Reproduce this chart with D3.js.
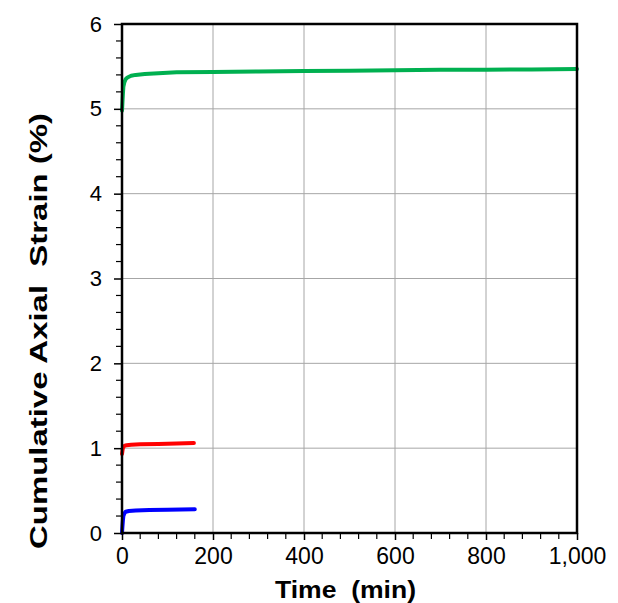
<!DOCTYPE html>
<html><head><meta charset="utf-8">
<script src="https://cdn.jsdelivr.net/npm/d3@7"></script>
<style>body{margin:0;background:#fff}svg{display:block}text{font-family:"Liberation Sans",Arial,sans-serif}</style>
</head><body><svg id="c" width="618" height="603"></svg>
<script>
const greenTime = [0, 1, 2, 3, 5, 8, 12, 20, 30, 50, 80, 120, 200, 300, 400, 500, 600, 700, 800, 900, 1000];
const greenStrain = [4.98, 5.08, 5.18, 5.26, 5.31, 5.35, 5.37, 5.39, 5.40, 5.41, 5.42, 5.43, 5.435, 5.44, 5.445, 5.45, 5.455, 5.46, 5.46, 5.465, 5.47];
const redTime = [0, 1, 2, 4, 6, 10, 20, 40, 80, 120, 158];
const redStrain = [0.93, 0.97, 1.0, 1.02, 1.03, 1.035, 1.04, 1.045, 1.05, 1.055, 1.06];
const blueTime = [0, 1, 2, 3, 5, 8, 15, 30, 60, 100, 160];
const blueStrain = [0.0, 0.08, 0.15, 0.2, 0.23, 0.25, 0.26, 0.265, 0.27, 0.275, 0.28];
const xTicks = [0, 200, 400, 600, 800, 1000];
const yTicks = [0, 1, 2, 3, 4, 5, 6];

const svg = d3.select("#c");
const L = 122, R = 577, T = 24, B = 533;
const x = d3.scaleLinear().domain([0, 1000]).range([L, R]);
const y = d3.scaleLinear().domain([0, 6]).range([B, T]);

// grid
svg.append("g").selectAll("line").data(xTicks.slice(1, -1)).join("line")
  .attr("x1", d => x(d)).attr("x2", d => x(d)).attr("y1", T).attr("y2", B)
  .attr("stroke", "#a6a6a6").attr("stroke-width", 1);
svg.append("g").selectAll("line").data(yTicks.slice(1, -1)).join("line")
  .attr("x1", L).attr("x2", R).attr("y1", d => y(d)).attr("y2", d => y(d))
  .attr("stroke", "#a6a6a6").attr("stroke-width", 1);

// series
const line = d3.line().x(d => x(d[0])).y(d => y(d[1]));
const series = [
  {t: greenTime, v: greenStrain, c: "#00b050"},
  {t: redTime, v: redStrain, c: "#ff0000"},
  {t: blueTime, v: blueStrain, c: "#0000ff"}
];
series.forEach(s => {
  svg.append("path").datum(s.t.map((t, i) => [t, s.v[i]]))
    .attr("d", line).attr("fill", "none").attr("stroke", s.c)
    .attr("stroke-width", 4).attr("stroke-linejoin", "round").attr("stroke-linecap", "round");
});

// frame
svg.append("rect").attr("x", L).attr("y", T).attr("width", R - L).attr("height", B - T)
  .attr("fill", "none").attr("stroke", "#000").attr("stroke-width", 2.5);

// axes
const xMinor = d3.range(0, 1001, 40).filter(d => d % 200 !== 0);
const yMinor = d3.range(0, 31).map(d => d / 5).filter((d, i) => i % 5 !== 0);
const xAxis = d3.axisBottom(x).tickValues(xTicks).tickSize(7).tickPadding(8)
  .tickFormat(d3.format(","));
const gx = svg.append("g").attr("transform", `translate(0,${B})`).call(xAxis);
gx.select(".domain").remove();
gx.selectAll(".tick line").attr("stroke", "#000").attr("stroke-width", 1.5);
gx.selectAll("text").attr("font-size", 23).attr("fill", "#000");
svg.append("g").selectAll("line").data(xMinor).join("line")
  .attr("x1", d => x(d)).attr("x2", d => x(d)).attr("y1", B).attr("y2", B + 6)
  .attr("stroke", "#000").attr("stroke-width", 1.2);

const yAxis = d3.axisLeft(y).tickValues(yTicks).tickSize(8).tickPadding(12)
  .tickFormat(d3.format("d"));
const gy = svg.append("g").attr("transform", `translate(${L},0)`).call(yAxis);
gy.select(".domain").remove();
gy.selectAll(".tick line").attr("stroke", "#000").attr("stroke-width", 1.5);
gy.selectAll("text").attr("font-size", 22).attr("fill", "#000");
svg.append("g").selectAll("line").data(yMinor).join("line")
  .attr("x1", L - 6).attr("x2", L).attr("y1", d => y(d)).attr("y2", d => y(d))
  .attr("stroke", "#000").attr("stroke-width", 1.2);

// labels
svg.append("text").attr("x", 275).attr("y", 598)
  .attr("font-size", 24).attr("font-weight", "bold")
  .attr("textLength", 141).attr("lengthAdjust", "spacingAndGlyphs")
  .attr("xml:space", "preserve").style("white-space", "pre").text("Time  (min)");
svg.append("text").attr("transform", `translate(47,549) rotate(-90)`)
  .attr("font-size", 24).attr("font-weight", "bold")
  .attr("textLength", 436).attr("lengthAdjust", "spacingAndGlyphs")
  .attr("xml:space", "preserve").style("white-space", "pre").text("Cumulative Axial  Strain (%)");
</script></body></html>
